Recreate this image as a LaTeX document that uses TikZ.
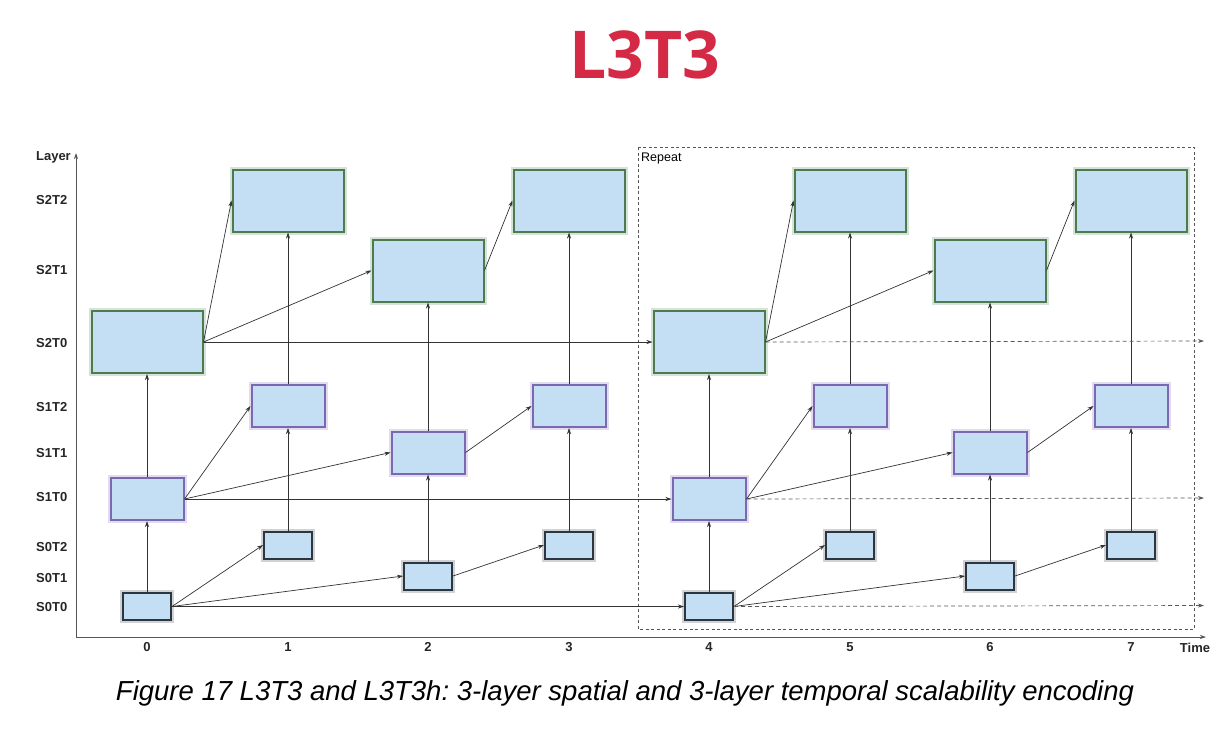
\documentclass[tikz,border=0pt]{standalone}
\usepackage{fontspec}
\setmainfont{Liberation Sans}
\newfontfamily\titlefont{Open Sans}
\usetikzlibrary{arrows.meta}
\frenchspacing
\definecolor{boxfill}{HTML}{C4DEF3}
\definecolor{gborder}{HTML}{4C7C4E}
\definecolor{pborder}{HTML}{7B68B2}
\definecolor{dborder}{HTML}{2B3640}
\definecolor{titlered}{HTML}{D42A45}
\definecolor{axisgray}{HTML}{555555}
\tikzset{
  basebox/.style={draw=#1, fill=boxfill, line width=2pt, inner sep=0pt,
    preaction={draw=#1, line width=6pt, opacity=0.22}},
  sbig/.style={basebox=gborder, minimum width=111pt, minimum height=62pt},
  smid/.style={basebox=pborder, minimum width=73pt, minimum height=42pt},
  ssmall/.style={basebox=dborder, minimum width=48pt, minimum height=27pt},
  conn/.style={draw=black!80, line width=0.7pt, -{Stealth[length=6pt,width=4pt]}},
  dconn/.style={conn, draw=black!65, dash pattern=on 4pt off 3pt},
  lab/.style={font=\bfseries\fontsize{13}{15}\selectfont, text=black!85, inner sep=0pt},
}
\begin{document}
\begin{tikzpicture}[x=1pt,y=-1pt]
\useasboundingbox (0,0) rectangle (1228,729);
\fill[white] (0,0) rectangle (1228,729);
% title
\node[font=\titlefont\bfseries\fontsize{66}{70}\selectfont, text=titlered] (title) at (645,55) {L3T3};
% repeat region
\draw[axisgray, line width=0.8pt, dash pattern=on 3pt off 2.5pt] (638,147) rectangle (1194,629);
\node[font=\fontsize{12.5}{14}\selectfont, inner sep=0pt, anchor=west] (rep) at (641,158) {Repeat};
% axes
\coordinate (orig) at (76,637);
\coordinate (ytop) at (76,153);
\coordinate (xend) at (1206,637);
\draw[axisgray, line width=0.8pt, -{Stealth[length=6pt,width=4pt]}] (orig) -- (ytop);
\draw[axisgray, line width=0.8pt, -{Stealth[length=6pt,width=4pt]}] (orig) -- (xend);
\node[lab, anchor=east] (ylab) at (71,157) {Layer};
\node[lab] (xlab) at (1195,648) {Time};
% row labels
\foreach \t/\y in {S2T2/200, S2T1/270, S2T0/343, S1T2/407, S1T1/453, S1T0/497, S0T2/547, S0T1/578, S0T0/607}
  \node[lab, anchor=west] (r\t) at (36,\y) {\t};
% time labels
\foreach \i/\x in {0/147,1/288,2/428,3/569,4/709,5/850,6/990,7/1131}
  \node[lab] (tl\i) at (\x,647) {\i};
% S2 boxes
\node[sbig] (a0) at (147,342) {};
\node[sbig] (a1) at (288,200.5) {};
\node[sbig] (a2) at (428,270.5) {};
\node[sbig] (a3) at (569,200.5) {};
\node[sbig] (a4) at (709,342) {};
\node[sbig] (a5) at (850,200.5) {};
\node[sbig] (a6) at (990,270.5) {};
\node[sbig] (a7) at (1131,200.5) {};
% S1 boxes
\node[smid] (b0) at (147,499) {};
\node[smid] (b1) at (288,406) {};
\node[smid] (b2) at (428,452.5) {};
\node[smid] (b3) at (569,406) {};
\node[smid] (b4) at (709,499) {};
\node[smid] (b5) at (850,406) {};
\node[smid] (b6) at (990,452.5) {};
\node[smid] (b7) at (1131,406) {};
% S0 boxes
\node[ssmall] (c0) at (147,606.5) {};
\node[ssmall] (c1) at (288,545) {};
\node[ssmall] (c2) at (428,576) {};
\node[ssmall] (c3) at (569,545) {};
\node[ssmall] (c4) at (709,606.5) {};
\node[ssmall] (c5) at (850,545) {};
\node[ssmall] (c6) at (990,576) {};
\node[ssmall] (c7) at (1131,545) {};
% dashed ends
\coordinate (ea) at (1204,341);
\coordinate (eb) at (1204,498);
\coordinate (ec) at (1204,605.5);
% vertical connectors
\foreach \i in {0,...,7} {
  \draw[conn] (c\i.north) -- (b\i.south);
  \draw[conn] (b\i.north) -- (a\i.south);
}
% temporal connectors
\foreach \L in {a,b,c} {
  \draw[conn] (\L0.east) -- (\L1.west);
  \draw[conn] (\L0.east) -- (\L2.west);
  \draw[conn] (\L2.east) -- (\L3.west);
  \draw[conn] (\L0.east) -- (\L4.west);
  \draw[conn] (\L4.east) -- (\L5.west);
  \draw[conn] (\L4.east) -- (\L6.west);
  \draw[conn] (\L6.east) -- (\L7.west);
  \draw[dconn] (\L4.east) -- (e\L);
}
% caption
\node[font=\itshape\fontsize{27.5}{30}\selectfont, inner sep=0pt] (cap) at (625,693) {Figure 17 L3T3 and L3T3h: 3-layer spatial and 3-layer temporal scalability encoding};
\end{tikzpicture}
\end{document}
